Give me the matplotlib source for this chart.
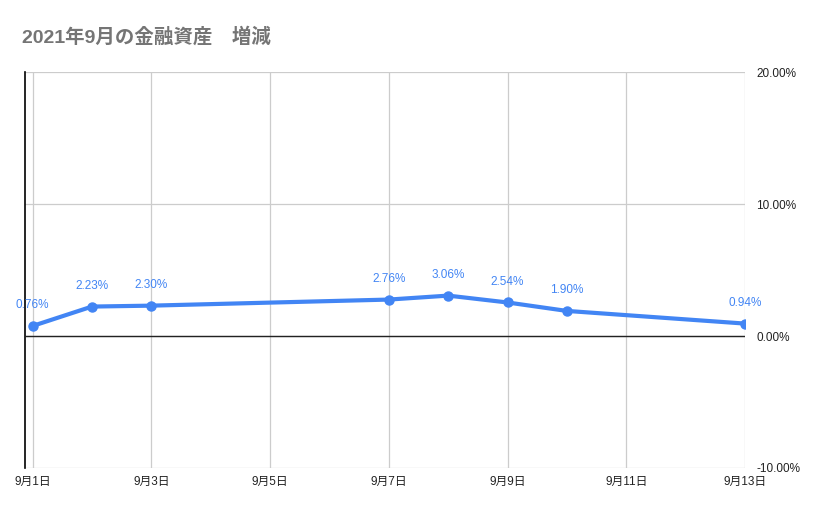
import pandas as pd
import matplotlib
matplotlib.use('Agg')
import matplotlib.pyplot as plt
import matplotlib.dates as mdates
from matplotlib.ticker import FuncFormatter

plt.rcParams['font.family'] = ['Liberation Sans', 'Noto Sans CJK JP', 'DejaVu Sans']

# datos
fechas = ['2021-09-01', '2021-09-02', '2021-09-03', '2021-09-07',
          '2021-09-08', '2021-09-09', '2021-09-10', '2021-09-13']
variacion = [0.76, 2.23, 2.30, 2.76, 3.06, 2.54, 1.90, 0.94]
ticks_y = [-10, 0, 10, 20]
ticks_x = ['2021-09-01', '2021-09-03', '2021-09-05', '2021-09-07',
           '2021-09-09', '2021-09-11', '2021-09-13']

x = pd.to_datetime(fechas)
azul = '#4285F4'

fig = plt.figure(figsize=(8.29, 5.14), dpi=100)
ax = fig.add_axes([0.0302, 0.0895, 0.8685, 0.7704])

ax.plot(x, variacion, color=azul, lw=3, marker='o', ms=6.5, zorder=4,
        solid_capstyle='round')
for xi, v in zip(x, variacion):
    ax.annotate(f'{v:.2f}%', (xi, v), xytext=(0, 10.5), textcoords='offset points',
                ha='center', va='bottom', color=azul, fontsize=8.5)

# limites del eje
ax.set_ylim(-10, 20)
ax.set_xlim(pd.Timestamp('2021-09-01') - pd.Timedelta(hours=3.05),
            pd.Timestamp('2021-09-13'))
ax.set_yticks(ticks_y)
ax.yaxis.set_major_formatter(FuncFormatter(lambda v, p: f'{v:.2f}%'))
ax.yaxis.tick_right()
ax.set_xticks(pd.to_datetime(ticks_x))
ax.xaxis.set_major_formatter(FuncFormatter(
    lambda v, p: f'{mdates.num2date(v).month}月{mdates.num2date(v).day}日'))
ax.tick_params(length=0, labelsize=8.5, labelcolor='#222222')
ax.tick_params(axis='y', pad=8)
ax.tick_params(axis='x', pad=6)

ax.grid(True, color='#cccccc', lw=0.9)
ax.axhline(0, color='#222222', lw=1, zorder=3)
for s in ['top', 'right', 'bottom']:
    ax.spines[s].set_visible(False)
ax.spines['left'].set_color('#000000')
ax.spines['left'].set_linewidth(1.2)

fig.text(0.0265, 0.928, '2021年9月の金融資産　増減', fontsize=14, fontweight='bold',
         color='#757575', va='center', ha='left')

plt.savefig('out.png', dpi=100)
